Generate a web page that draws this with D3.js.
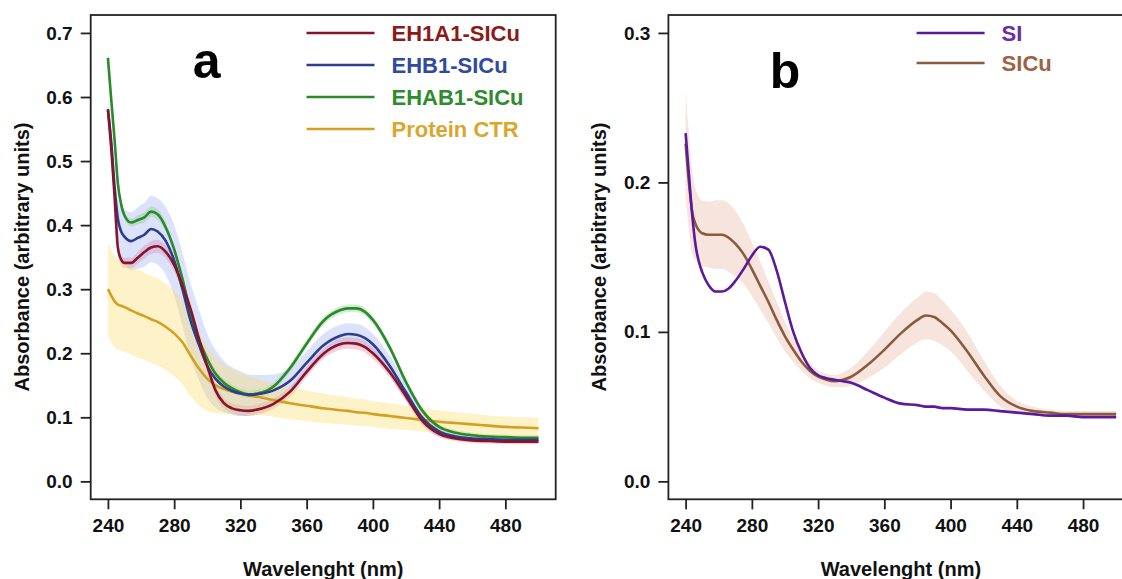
<!DOCTYPE html>
<html>
<head>
<meta charset="utf-8">
<script src="https://cdn.jsdelivr.net/npm/d3@7"></script>
<style>
  body { margin: 0; background: #fff; }
  svg { display: block; font-family: "Liberation Sans", Arial, Helvetica, sans-serif; }
  .tick-label { font-size: 19px; font-weight: bold; fill: #111; }
  .axis-title { font-size: 20px; font-weight: bold; fill: #111; }
  .legend-text { font-size: 22px; font-weight: bold; }
  .panel-letter { font-size: 50px; font-weight: bold; fill: #000; }
</style>
</head>
<body>
<div id="chart"></div>
<script>
const width = 1122;
const height = 579;

// panel a: wavelengths (nm)
const wlA = [240, 242, 244, 246, 248, 250, 254, 258, 262, 266, 270, 275, 280, 285, 290, 295, 300, 305, 310, 315, 320, 325, 330, 340, 350, 360, 370, 380, 385, 390, 395, 400, 410, 420, 430, 440, 450, 460, 470, 480, 490, 500];

const eh1a1Mean = [0.580, 0.520, 0.445, 0.365, 0.346, 0.341, 0.341, 0.349, 0.358, 0.365, 0.367, 0.358, 0.338, 0.306, 0.268, 0.222, 0.180, 0.142, 0.122, 0.114, 0.111, 0.110, 0.112, 0.121, 0.140, 0.171, 0.199, 0.214, 0.216, 0.215, 0.210, 0.200, 0.171, 0.133, 0.094, 0.074, 0.067, 0.064, 0.063, 0.062, 0.062, 0.062];
const eh1a1Sd = [0.008, 0.008, 0.008, 0.008, 0.008, 0.008, 0.008, 0.009, 0.010, 0.010, 0.010, 0.010, 0.010, 0.010, 0.010, 0.010, 0.010, 0.009, 0.008, 0.008, 0.008, 0.008, 0.008, 0.008, 0.008, 0.008, 0.008, 0.009, 0.009, 0.009, 0.009, 0.009, 0.008, 0.007, 0.006, 0.005, 0.004, 0.004, 0.004, 0.004, 0.004, 0.004];

const ehb1Mean = [0.581, 0.530, 0.460, 0.410, 0.390, 0.382, 0.375, 0.380, 0.385, 0.394, 0.390, 0.375, 0.345, 0.300, 0.250, 0.213, 0.180, 0.160, 0.148, 0.141, 0.137, 0.135, 0.136, 0.142, 0.157, 0.185, 0.212, 0.227, 0.230, 0.229, 0.224, 0.214, 0.181, 0.139, 0.099, 0.078, 0.070, 0.067, 0.066, 0.065, 0.065, 0.065];
const ehb1Sd = [0.015, 0.018, 0.022, 0.030, 0.037, 0.042, 0.045, 0.048, 0.050, 0.052, 0.052, 0.053, 0.055, 0.057, 0.058, 0.055, 0.050, 0.045, 0.040, 0.037, 0.035, 0.032, 0.030, 0.025, 0.020, 0.018, 0.018, 0.017, 0.017, 0.017, 0.017, 0.016, 0.016, 0.014, 0.011, 0.008, 0.006, 0.005, 0.005, 0.005, 0.005, 0.005];

const ehab1Mean = [0.661, 0.596, 0.534, 0.465, 0.432, 0.415, 0.404, 0.408, 0.412, 0.421, 0.417, 0.396, 0.362, 0.316, 0.262, 0.221, 0.191, 0.168, 0.154, 0.145, 0.139, 0.136, 0.137, 0.148, 0.177, 0.215, 0.250, 0.267, 0.270, 0.270, 0.265, 0.252, 0.210, 0.155, 0.110, 0.085, 0.076, 0.072, 0.070, 0.069, 0.068, 0.068];
const ehab1Sd = [0.012, 0.010, 0.008, 0.007, 0.006, 0.006, 0.006, 0.007, 0.008, 0.008, 0.008, 0.007, 0.006, 0.006, 0.006, 0.006, 0.006, 0.006, 0.006, 0.006, 0.006, 0.006, 0.006, 0.006, 0.006, 0.006, 0.006, 0.006, 0.006, 0.006, 0.006, 0.006, 0.006, 0.005, 0.005, 0.004, 0.004, 0.004, 0.004, 0.004, 0.004, 0.004];

const ctrMean = [0.300, 0.290, 0.281, 0.276, 0.274, 0.272, 0.267, 0.262, 0.258, 0.253, 0.249, 0.241, 0.231, 0.217, 0.196, 0.176, 0.160, 0.150, 0.144, 0.140, 0.137, 0.134, 0.132, 0.127, 0.122, 0.118, 0.114, 0.111, 0.110, 0.108, 0.107, 0.105, 0.102, 0.099, 0.096, 0.093, 0.091, 0.089, 0.087, 0.085, 0.084, 0.083];
const ctrSd = [0.072, 0.072, 0.071, 0.071, 0.070, 0.070, 0.069, 0.069, 0.068, 0.068, 0.068, 0.067, 0.067, 0.066, 0.063, 0.057, 0.050, 0.044, 0.038, 0.035, 0.032, 0.030, 0.028, 0.026, 0.025, 0.024, 0.023, 0.022, 0.022, 0.021, 0.021, 0.020, 0.020, 0.019, 0.018, 0.018, 0.017, 0.017, 0.016, 0.016, 0.016, 0.016];

// panel b
const wlB = [240, 242, 244, 246, 248, 250, 254, 258, 262, 266, 270, 275, 280, 285, 290, 295, 300, 305, 310, 315, 320, 325, 330, 335, 340, 350, 360, 370, 380, 385, 390, 395, 400, 410, 420, 430, 440, 450, 460, 470, 480, 490, 500];

const siMean = [0.233, 0.205, 0.178, 0.158, 0.147, 0.140, 0.131, 0.127, 0.127, 0.129, 0.134, 0.142, 0.151, 0.157, 0.155, 0.141, 0.120, 0.100, 0.086, 0.076, 0.071, 0.069, 0.068, 0.067, 0.066, 0.061, 0.056, 0.052, 0.051, 0.050, 0.050, 0.049, 0.049, 0.048, 0.048, 0.047, 0.046, 0.045, 0.044, 0.044, 0.043, 0.043, 0.043];

const sicuMean = [0.226, 0.200, 0.180, 0.172, 0.168, 0.166, 0.165, 0.165, 0.165, 0.163, 0.159, 0.152, 0.142, 0.131, 0.120, 0.108, 0.097, 0.088, 0.080, 0.074, 0.070, 0.068, 0.067, 0.068, 0.070, 0.078, 0.088, 0.099, 0.108, 0.111, 0.110, 0.106, 0.101, 0.087, 0.071, 0.057, 0.050, 0.047, 0.046, 0.045, 0.045, 0.045, 0.045];
const sicuSd = [0.035, 0.032, 0.028, 0.024, 0.022, 0.022, 0.022, 0.023, 0.023, 0.023, 0.022, 0.020, 0.018, 0.016, 0.014, 0.012, 0.010, 0.008, 0.006, 0.005, 0.004, 0.004, 0.004, 0.005, 0.006, 0.009, 0.012, 0.014, 0.015, 0.016, 0.016, 0.015, 0.014, 0.013, 0.010, 0.007, 0.004, 0.003, 0.002, 0.002, 0.002, 0.002, 0.002];

const xTicks = [240, 280, 320, 360, 400, 440, 480];
const yTicksA = [0, 0.1, 0.2, 0.3, 0.4, 0.5, 0.6, 0.7];
const yTicksB = [0, 0.1, 0.2, 0.3];

const seriesA = [
  { name: "EH1A1-SICu", wl: wlA, mean: eh1a1Mean, sd: eh1a1Sd, line: "#86142a", text: "#8b1a1a", band: "rgba(236,120,145,0.35)" },
  { name: "EHB1-SICu", wl: wlA, mean: ehb1Mean, sd: ehb1Sd, line: "#2b3d8e", text: "#2f4a9e", band: "rgba(140,160,240,0.30)" },
  { name: "EHAB1-SICu", wl: wlA, mean: ehab1Mean, sd: ehab1Sd, line: "#2a8a2a", text: "#2e8b2e", band: "rgba(130,200,130,0.35)" },
  { name: "Protein CTR", wl: wlA, mean: ctrMean, sd: ctrSd, line: "#d4a021", text: "#dba62c", band: "rgba(250,222,110,0.38)" },
];

const seriesB = [
  { name: "SI", wl: wlB, mean: siMean, sd: null, line: "#5a1a9a", text: "#6a2ea6", band: null },
  { name: "SICu", wl: wlB, mean: sicuMean, sd: sicuSd, line: "#8a5a3e", text: "#9c6247", band: "rgba(236,190,170,0.40)" },
];

const svg = d3.select("#chart")
  .append("svg")
  .attr("width", width)
  .attr("height", height);

svg.append("rect").attr("width", width).attr("height", height).attr("fill", "#fff");

function drawPanel(cfg) {
  const x = d3.scaleLinear().domain([229.6, 510.4]).range([cfg.left, cfg.left + 465]);
  const y = d3.scaleLinear().domain(cfg.yDomain).range([499.3, 15]);
  const g = svg.append("g");

  // bands first, then lines
  cfg.series.forEach(s => {
    if (!s.sd) return;
    const rows = s.wl.map((w, i) => ({ w, lo: s.mean[i] - s.sd[i], hi: s.mean[i] + s.sd[i] }));
    g.append("path")
      .datum(rows)
      .attr("fill", s.band)
      .attr("stroke", "none")
      .attr("d", d3.area()
        .x(d => x(d.w))
        .y0(d => y(d.lo))
        .y1(d => y(d.hi))
        .curve(d3.curveMonotoneX));
  });

  cfg.series.slice().reverse().forEach(s => {
    const rows = s.wl.map((w, i) => ({ w, v: s.mean[i] }));
    g.append("path")
      .datum(rows)
      .attr("fill", "none")
      .attr("stroke", s.line)
      .attr("stroke-width", 2.6)
      .attr("stroke-linejoin", "round")
      .attr("d", d3.line()
        .x(d => x(d.w))
        .y(d => y(d.v))
        .curve(d3.curveMonotoneX));
  });

  // frame
  g.append("rect")
    .attr("x", x.range()[0])
    .attr("y", 15)
    .attr("width", 465)
    .attr("height", 484.3)
    .attr("fill", "none")
    .attr("stroke", "#222")
    .attr("stroke-width", 1.8);

  // x axis
  const xAxis = g.append("g")
    .attr("transform", "translate(0,499.3)")
    .call(d3.axisBottom(x).tickValues(xTicks).tickSize(10).tickPadding(9).tickSizeOuter(0));
  xAxis.select(".domain").remove();
  xAxis.selectAll(".tick line").attr("stroke", "#222").attr("stroke-width", 1.8);
  xAxis.selectAll(".tick text").attr("class", "tick-label").attr("font-family", null).attr("font-size", null);

  // y axis
  const yAxis = g.append("g")
    .attr("transform", `translate(${x.range()[0]},0)`)
    .call(d3.axisLeft(y).tickValues(cfg.yTicks).tickFormat(d3.format(".1f")).tickSize(10).tickPadding(8).tickSizeOuter(0));
  yAxis.select(".domain").remove();
  yAxis.selectAll(".tick line").attr("stroke", "#222").attr("stroke-width", 1.8);
  yAxis.selectAll(".tick text").attr("class", "tick-label").attr("font-family", null).attr("font-size", null);

  g.append("text")
    .attr("class", "axis-title")
    .attr("text-anchor", "middle")
    .attr("x", x.range()[0] + 232.5)
    .attr("y", 576)
    .text("Wavelenght (nm)");

  g.append("text")
    .attr("class", "axis-title")
    .attr("text-anchor", "middle")
    .attr("transform", `translate(${x.range()[0] - 62},257) rotate(-90)`)
    .text("Absorbance (arbitrary units)");

  g.append("text")
    .attr("class", "panel-letter")
    .attr("text-anchor", "middle")
    .attr("x", cfg.letterX)
    .attr("y", cfg.letterY)
    .text(cfg.letter);

  // legend
  cfg.series.forEach((s, i) => {
    const ly = 33 + i * cfg.legendStep;
    g.append("line")
      .attr("x1", cfg.legendX)
      .attr("x2", cfg.legendX + 68)
      .attr("y1", ly)
      .attr("y2", ly)
      .attr("stroke", s.line)
      .attr("stroke-width", 2.6);
    g.append("text")
      .attr("class", "legend-text")
      .attr("x", cfg.legendX + 85)
      .attr("y", ly)
      .attr("dy", "0.36em")
      .attr("fill", s.text)
      .text(s.name);
  });
}

drawPanel({
  left: 90.7,
  yDomain: [-0.028, 0.728],
  yTicks: yTicksA,
  series: seriesA,
  letter: "a",
  letterX: 206.6,
  letterY: 78,
  legendX: 306.5,
  legendStep: 32,
});

drawPanel({
  left: 668.4,
  yDomain: [-0.012, 0.312],
  yTicks: yTicksB,
  series: seriesB,
  letter: "b",
  letterX: 785,
  letterY: 88,
  legendX: 916.6,
  legendStep: 30,
});
</script>
</body>
</html>
